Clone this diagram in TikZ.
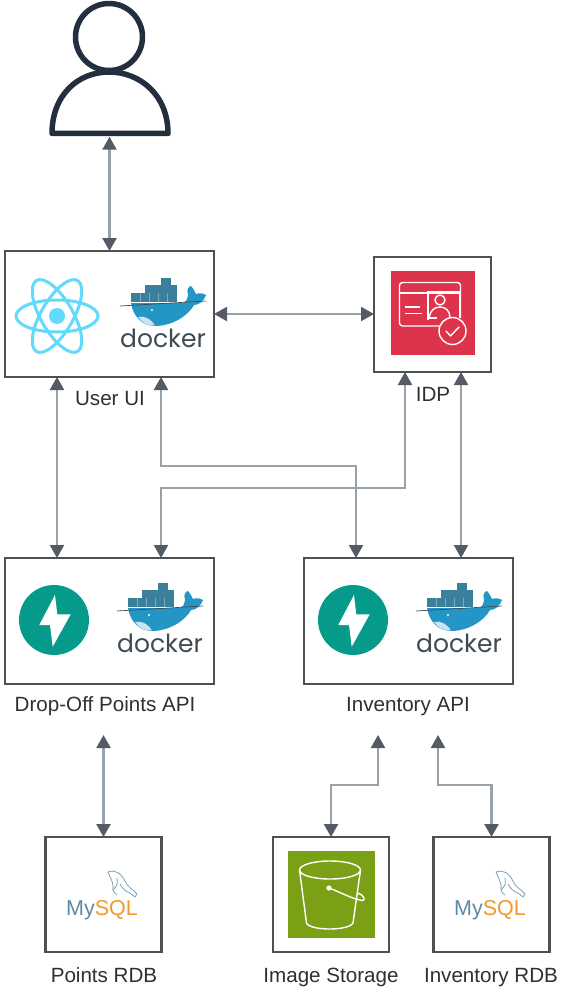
\documentclass[tikz,border=0pt]{standalone}
\usepackage{fontspec}
\setmainfont{Liberation Sans}
\newfontfamily\dockerfont{Poppins}
\usetikzlibrary{arrows.meta}
\definecolor{linec}{HTML}{98A0A8}
\definecolor{tipc}{HTML}{545B64}
\definecolor{boxc}{HTML}{505050}
\definecolor{textc}{HTML}{303030}
\definecolor{navy}{HTML}{232F3E}
\definecolor{reactc}{HTML}{61DAFB}
\definecolor{fastc}{HTML}{059A8A}
\definecolor{whalec}{HTML}{2496C6}
\definecolor{cratec}{HTML}{3A7F9C}
\definecolor{dockertext}{HTML}{3F4B54}
\definecolor{idpc}{HTML}{DD344C}
\definecolor{bucketc}{HTML}{7AA116}
\definecolor{sqlblue}{HTML}{5D8AA8}
\definecolor{sqlorange}{HTML}{F29A2E}
\tikzset{
  x=1pt,y=-1pt,
  box/.style={draw=boxc,line width=2.3pt,fill=white,inner sep=0pt,outer sep=0pt},
  widebox/.style={box,minimum width=209pt,minimum height=126pt},
  smallbox/.style={box,minimum width=116pt,minimum height=115pt},
  lbl/.style={font=\fontsize{20.6}{22}\selectfont,text=textc,inner sep=0pt,anchor=base},
  link/.style={draw=linec,line width=2.2pt,
    {Triangle[color=tipc,width=14pt,length=13pt]}-{Triangle[color=tipc,width=14pt,length=13pt]}},
  dockerlogo/.pic={
    \fill[cratec] (11,15) rectangle (57,24);
    \fill[cratec] (25,7) rectangle (57,15);
    \fill[cratec] (41,0) rectangle (51,7);
    \foreach \vx in {20,29,38,47}{\draw[white,opacity=.35,line width=.5pt] (\vx,15) -- (\vx,24);}
    \fill[whalec] (11,25) -- (62,25) .. controls (66,25) and (68,20) .. (68,16)
      .. controls (66,12) and (69,8) .. (71,8) .. controls (73,10) and (75,14) .. (76,16)
      .. controls (79,15) and (83,15) .. (86,17) .. controls (84,23) and (79,27) .. (74,27)
      .. controls (68,38) and (52,48) .. (35,48) .. controls (22,48) and (13,38) .. (11,25) -- cycle;
    \fill[white,opacity=.75] (18,39) .. controls (25,37) and (32,42) .. (35,47.5) .. controls (28,48) and (22,45) .. (18,39) -- cycle;
    \draw[dockertext,line width=.7pt] (0,28) -- (86,23);
    \fill[white] (32,32) circle (1.2);
    \node[anchor=base,inner sep=0pt,text=dockertext,font=\dockerfont\fontsize{25}{28}\selectfont] at (43,69.5) {docker};
  },
  fastlogo/.pic={
    \fill[fastc] (0,0) circle (35);
    \fill[white] (1,-25) -- (-14.7,5) -- (-4,5) -- (-1.3,26.7) -- (16.7,-5.7) -- (3.3,-5.7) -- cycle;
  },
  mysqllogo/.pic={
    \node[anchor=base west,inner sep=0pt,font=\fontsize{21.5}{24}\selectfont] at (66,915)
      {\textcolor{sqlblue}{My}\textcolor{sqlorange}{SQL}};
    \draw[sqlblue!80,line width=.8pt,line join=round] (108,872) .. controls (114,869) and (121,873) .. (125,881)
      .. controls (127,887) and (133,889) .. (137,894) -- (135,897) -- (130,893)
      .. controls (126,892) and (122,888) .. (120,884);
    \draw[sqlblue!80,line width=.8pt] (108,872) .. controls (110,878) and (114,882) .. (113,890)
      .. controls (114,893) and (116,894) .. (117,895);
    \draw[sqlblue!80,line width=.8pt] (113,890) .. controls (117,886) and (118,884) .. (117,878);
  }
}
\begin{document}
\begin{tikzpicture}
\useasboundingbox[fill=white] (0,0) rectangle (578,1003);

% user figure
\node[inner sep=0pt,minimum width=122pt,minimum height=136pt] (user) at (109.5,68.5) {};
\draw[navy,line width=5.5pt,line join=round] (109,37) circle (33.5);
\draw[navy,line width=5.5pt,line join=round,fill=white] (52,133.5) .. controls (52,95) and (78,72) .. (109,72)
  .. controls (140,72) and (168,95) .. (168,133.5) -- cycle;

% boxes
\node[widebox] (ui) at (109.5,314) {};
\node[box,minimum width=117pt,minimum height=115pt] (idp) at (432.5,314.5) {};
\node[widebox] (drop) at (109.5,621) {};
\node[widebox] (inv) at (408.5,621) {};
\node[smallbox] (prdb) at (103.5,894.5) {};
\node[smallbox] (img) at (331,894.5) {};
\node[smallbox] (irdb) at (491.5,894.5) {};

% labels
\node[lbl] (uil) at (110,405) {User UI};
\node[lbl] (idpl) at (433,401) {IDP};
\node[lbl] (dropl) at (105,711) {Drop-Off Points API};
\node[lbl] (invl) at (408,711) {Inventory API};
\node[lbl] (prdbl) at (104,982) {Points RDB};
\node[lbl] (imgl) at (331,982) {Image Storage};
\node[lbl] (irdbl) at (491,982) {Inventory RDB};

% react
\begin{scope}[shift={(57,316)}]
  \foreach \ang in {0,60,120}{\draw[reactc,line width=3pt,rotate=\ang] (0,0) ellipse [x radius=41,y radius=16];}
  \fill[reactc] (0,0) circle (8);
\end{scope}
\pic at (120,278) {dockerlogo};
\pic at (117,583) {dockerlogo};
\pic at (416,583) {dockerlogo};
\pic at (54,620) {fastlogo};
\pic at (353,620) {fastlogo};

% idp icon
\fill[idpc] (391,271) rectangle (475,355);
\begin{scope}[draw=white,line width=1.4pt]
  \draw[rounded corners=3pt] (444,326) -- (399.5,326) -- (399.5,282.5) -- (460.5,282.5) -- (460.5,318);
  \draw (399.5,293) -- (460.5,293);
  \draw (428,320) -- (428,292) -- (460,292) -- (460,318);
  \draw (437,318) -- (428,318);
  \draw (440,300) circle (5);
  \draw (429,318) .. controls (430,311) and (434,307) .. (440,307) .. controls (446,307) and (450,311) .. (450,318);
  \draw (405,307) -- (420,307);
  \draw (405,313.5) -- (422,313.5);
  \draw[fill=idpc] (452.5,331) circle (13.5);
  \draw[line cap=round,line join=round] (446,331) -- (450.5,336) -- (459,327);
\end{scope}

% mysql
\pic at (0,0) {mysqllogo};
\pic at (388,0) {mysqllogo};

% bucket
\fill[bucketc] (288,851) rectangle (375,938);
\begin{scope}[draw=white,line width=1.4pt,line join=round]
  \draw (330,870) ellipse [x radius=30.5,y radius=9];
  \draw (299.5,870) -- (306.5,923) .. controls (310,931) and (349,931) .. (353,923) -- (360.5,870);
  \fill[white] (329,888) circle (2.6);
  \draw (329,888) .. controls (340,892) and (350,898) .. (362,900.5) .. controls (366,901) and (365,895) .. (357,893);
\end{scope}

% anchors
\coordinate (a1) at (356,466);
\coordinate (a2) at (405,488);
\coordinate (dropfree) at (103.5,735);
\coordinate (invfree1) at (378,735);
\coordinate (invfree2) at (438,735);
\coordinate (a3) at (331,785);
\coordinate (a4) at (491.5,785);

% connectors
\draw[link] (user.south) -- (ui.north);
\draw[link] (ui.east) -- (ui.east -| idp.west);
\draw[link] ([xshift=-52.5pt]ui.south) -- ([xshift=-52.5pt]drop.north);
\draw[link] ([xshift=51.5pt]ui.south) |- (a1) -| ([xshift=-52.5pt]inv.north);
\draw[link] ([xshift=51.5pt]drop.north) |- (a2) -| ([xshift=-27.5pt]idp.south);
\draw[link] ([xshift=28.5pt]idp.south) -- ([xshift=52.5pt]inv.north);
\draw[link] (dropfree) -- (prdb.north);
\draw[link] (invfree1) |- (a3) -- (img.north);
\draw[link] (invfree2) |- (a4) -- (irdb.north);
\end{tikzpicture}
\end{document}
